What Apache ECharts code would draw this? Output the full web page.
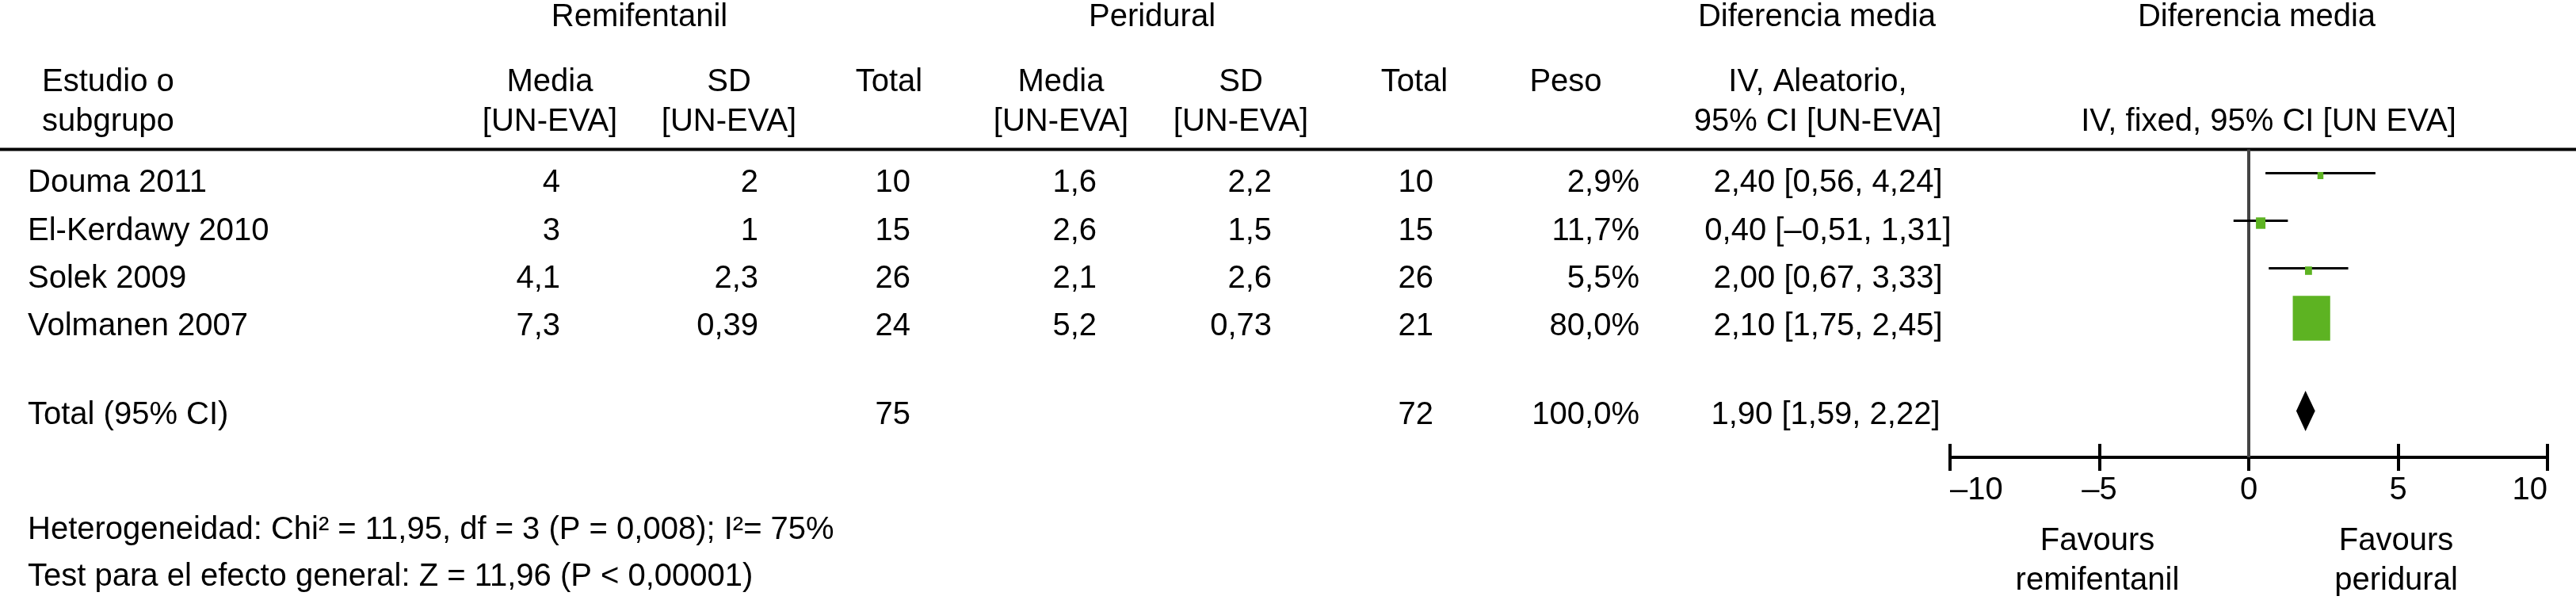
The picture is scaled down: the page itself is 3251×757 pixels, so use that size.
<!DOCTYPE html>
<html><head><meta charset="utf-8">
<script src="https://cdn.jsdelivr.net/npm/echarts@6/dist/echarts.min.js"></script>
<style>html,body{margin:0;padding:0;background:#fff}#c{width:3251px;height:757px}</style>
</head><body><div id="c"></div>
<script>
// ---- data ----
const studies   = ['Douma 2011', 'El-Kerdawy 2010', 'Solek 2009', 'Volmanen 2007'];
const remiMean  = [4, 3, 4.1, 7.3];
const remiSD    = [2, 1, 2.3, 0.39];
const remiN     = [10, 15, 26, 24];
const periMean  = [1.6, 2.6, 2.1, 5.2];
const periSD    = [2.2, 1.5, 2.6, 0.73];
const periN     = [10, 15, 26, 21];
const weights   = [2.9, 11.7, 5.5, 80.0];
const meanDiff  = [2.40, 0.40, 2.00, 2.10];
const ciLow     = [0.56, -0.51, 0.67, 1.75];
const ciHigh    = [4.24, 1.31, 3.33, 2.45];
const totalLabel = 'Total (95% CI)';
const totalRemiN = [75];
const totalPeriN = [72];
const totalWeight = [100.0];
const totalDiff = [1.90];
const totalLow  = [1.59];
const totalHigh = [2.22];
const xTicks = [-10, -5, 0, 5, 10];
const heterogeneityText = 'Heterogeneidad: Chi² = 11,95, df = 3 (P = 0,008); I²= 75%';
const overallText = 'Test para el efecto general: Z = 11,96 (P < 0,00001)';
const favoursLeft = ['Favours', 'remifentanil'];
const favoursRight = ['Favours', 'peridural'];

// ---- helpers ----
const FONT = '"Liberation Sans", Arial, Helvetica, sans-serif';
const FS = 40;
const fmt = v => String(v).replace('.', ',').replace('-', '–');
const fmt2 = v => v.toFixed(2).replace('.', ',').replace('-', '–');
const fmtW = v => v.toFixed(1).replace('.', ',') + '%';
const ciText = (m, l, h) => fmt2(m) + ' [' + fmt2(l) + ', ' + fmt2(h) + ']';

// layout (pixels)
const rowY = [231, 291.5, 351.5, 411.5];
const totalY = 523.5;
const hdr1Y = 21.5, hdr2Y = 103.5, hdr3Y = 153.5;

const texts = [];
function T(x, y, s, align) {
  texts.push({ type: 'text', x: x, y: y, silent: true,
    style: { text: s, fontSize: FS, fontFamily: FONT, fill: '#000', align: align || 'left', verticalAlign: 'middle' } });
}
// headers
T(807, hdr1Y, 'Remifentanil', 'center');
T(1454, hdr1Y, 'Peridural', 'center');
T(2293, hdr1Y, 'Diferencia media', 'center');
T(2848, hdr1Y, 'Diferencia media', 'center');
T(53, hdr2Y, 'Estudio o'); T(53, hdr3Y, 'subgrupo');
T(694, hdr2Y, 'Media', 'center'); T(694, hdr3Y, '[UN-EVA]', 'center');
T(920, hdr2Y, 'SD', 'center'); T(920, hdr3Y, '[UN-EVA]', 'center');
T(1122, hdr2Y, 'Total', 'center');
T(1339, hdr2Y, 'Media', 'center'); T(1339, hdr3Y, '[UN-EVA]', 'center');
T(1566, hdr2Y, 'SD', 'center'); T(1566, hdr3Y, '[UN-EVA]', 'center');
T(1785, hdr2Y, 'Total', 'center');
T(1976, hdr2Y, 'Peso', 'center');
T(2294, hdr2Y, 'IV, Aleatorio,', 'center'); T(2294, hdr3Y, '95% CI [UN-EVA]', 'center');
T(2863, hdr3Y, 'IV, fixed, 95% CI [UN EVA]', 'center');
// rows
studies.forEach((s, i) => {
  const y = rowY[i];
  T(35, y, s);
  T(707, y, fmt(remiMean[i]), 'right');
  T(957, y, fmt(remiSD[i]), 'right');
  T(1149, y, fmt(remiN[i]), 'right');
  T(1384, y, fmt(periMean[i]), 'right');
  T(1605, y, fmt(periSD[i]), 'right');
  T(1809, y, fmt(periN[i]), 'right');
  T(2069, y, fmtW(weights[i]), 'right');
  T(2307, y, ciText(meanDiff[i], ciLow[i], ciHigh[i]), 'center');
});
T(35, totalY, totalLabel);
T(1149, totalY, fmt(totalRemiN[0]), 'right');
T(1809, totalY, fmt(totalPeriN[0]), 'right');
T(2069, totalY, fmtW(totalWeight[0]), 'right');
T(2304, totalY, ciText(totalDiff[0], totalLow[0], totalHigh[0]), 'center');
// footnotes
T(35, 669, heterogeneityText);
T(35, 728, overallText);
// favours
T(2647, 683, favoursLeft[0], 'center'); T(2647, 733, favoursLeft[1], 'center');
T(3024, 683, favoursRight[0], 'center'); T(3024, 733, favoursRight[1], 'center');
// header rule
texts.push({ type: 'line', silent: true, shape: { x1: 0, y1: 188.5, x2: 3251, y2: 188.5 },
  style: { stroke: '#000', lineWidth: 4 } });

// ---- forest plot ----
const Y_MIN = -0.5, Y_MAX = 5.975, TOTAL_ROW = 5;
const studyRows = studies.map((s, i) => i);
const ciData = studies.map((s, i) => [ciLow[i], ciHigh[i], studyRows[i]]);
const sqData = studies.map((s, i) => [meanDiff[i], studyRows[i], weights[i]]);
const diaData = [[totalLow[0], totalDiff[0], totalHigh[0], TOTAL_ROW]];

const chart = echarts.init(document.getElementById('c'), null, { renderer: 'canvas' });
const axisLabelFmt = v => (v < 0 ? '–' + Math.abs(v) : String(v));
chart.setOption({
  animation: false,
  backgroundColor: '#fff',
  grid: { left: 2461, right: 36, top: 188.5, bottom: 180, containLabel: false, outerBoundsMode: 'none' },
  xAxis: [
    { type: 'value', min: xTicks[0], max: xTicks[xTicks.length - 1], interval: 5, position: 'bottom',
      splitLine: { show: false },
      axisLine: { show: true, onZero: false, lineStyle: { color: '#000', width: 4 } },
      axisTick: { show: true, length: 17, lineStyle: { color: '#000', width: 4 } },
      axisLabel: { show: true, fontSize: FS, fontFamily: FONT, color: '#000', margin: 22,
        alignMinLabel: 'left', alignMaxLabel: 'right', formatter: axisLabelFmt } },
    { type: 'value', min: xTicks[0], max: xTicks[xTicks.length - 1], interval: 5, position: 'bottom', offset: 0,
      splitLine: { show: false },
      axisLine: { show: false, onZero: false },
      axisTick: { show: true, inside: true, length: 17, lineStyle: { color: '#000', width: 4 } },
      axisLabel: { show: false } }
  ],
  yAxis: { type: 'value', inverse: true, min: Y_MIN, max: Y_MAX, show: false, splitLine: { show: false } },
  graphic: texts,
  series: [
    { type: 'custom', xAxisIndex: 0, z: 1, silent: true, data: [[0]],
      renderItem: (params, api) => {
        const a = api.coord([api.value(0), Y_MIN]);
        const b = api.coord([api.value(0), Y_MAX]);
        return { type: 'line', shape: { x1: a[0], y1: a[1], x2: b[0], y2: b[1] },
          style: { stroke: '#444', lineWidth: 4 } };
      } },
    { type: 'custom', xAxisIndex: 0, z: 2, silent: true, data: ciData,
      renderItem: (params, api) => {
        const a = api.coord([api.value(0), api.value(2)]);
        const b = api.coord([api.value(1), api.value(2)]);
        return { type: 'line', shape: { x1: a[0], y1: a[1], x2: b[0], y2: b[1] },
          style: { stroke: '#000', lineWidth: 3 } };
      } },
    { type: 'custom', xAxisIndex: 0, z: 3, silent: true, data: sqData,
      renderItem: (params, api) => {
        const c = api.coord([api.value(0), api.value(1)]);
        const w = 6 + 0.515 * api.value(2);
        const h = w * 1.2;
        return { type: 'rect', shape: { x: c[0] - w / 2, y: c[1] + 3 - h / 2, width: w, height: h },
          style: { fill: '#5db322' } };
      } },
    { type: 'custom', xAxisIndex: 0, z: 4, silent: true, data: diaData,
      renderItem: (params, api) => {
        const l = api.coord([api.value(0), api.value(3)]);
        const m = api.coord([api.value(1), api.value(3)]);
        const r = api.coord([api.value(2), api.value(3)]);
        const hh = 25.5;
        return { type: 'polygon', shape: { points: [[l[0], l[1]], [m[0], m[1] - hh], [r[0], r[1]], [m[0], m[1] + hh]] },
          style: { fill: '#000' } };
      } }
  ]
});
</script></body></html>
